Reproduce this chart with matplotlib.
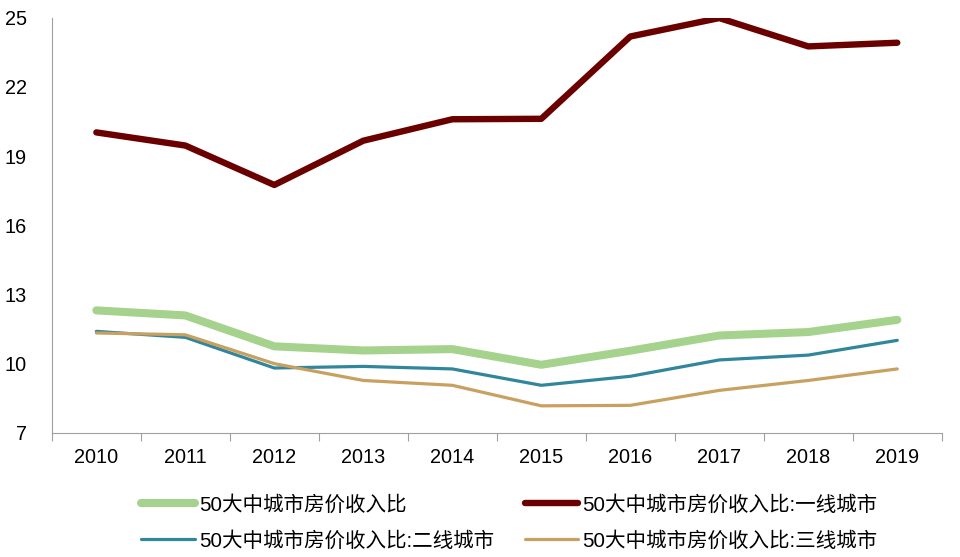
import numpy as np
import matplotlib.pyplot as plt

plt.rcParams['font.family'] = ['Liberation Sans', 'Noto Sans CJK SC', 'DejaVu Sans']

years = ['2010', '2011', '2012', '2013', '2014', '2015', '2016', '2017', '2018', '2019']
ratio_all = [12.31, 12.09, 10.75, 10.57, 10.63, 9.95, 10.56, 11.22, 11.37, 11.90]
ratio_tier1 = [20.03, 19.46, 17.75, 19.67, 20.60, 20.62, 24.19, 24.99, 23.76, 23.92]
ratio_tier2 = [11.40, 11.14, 9.81, 9.88, 9.77, 9.06, 9.45, 10.16, 10.37, 11.01]
ratio_tier3 = [11.33, 11.25, 10.00, 9.27, 9.06, 8.17, 8.19, 8.84, 9.27, 9.77]
labels = ['50大中城市房价收入比', '50大中城市房价收入比:一线城市',
          '50大中城市房价收入比:二线城市', '50大中城市房价收入比:三线城市']

fig = plt.figure(figsize=(9.6, 5.57), dpi=100)
ax = fig.add_axes([0.054, 0.223, 0.927, 0.745])

x = np.arange(len(years))
l1, = ax.plot(x, ratio_all, color='#A5D28C', lw=5.8, solid_capstyle='round')
l2, = ax.plot(x, ratio_tier1, color='#6B0000', lw=4.6, solid_capstyle='round')
l3, = ax.plot(x, ratio_tier2, color='#31869B', lw=2.3, solid_capstyle='round')
l4, = ax.plot(x, ratio_tier3, color='#C8A060', lw=2.3, solid_capstyle='round')

ax.set_xlim(-0.5, len(years) - 0.5)
ax.set_ylim(7, 25)
ax.set_yticks([7, 10, 13, 16, 19, 22, 25])
ax.tick_params(axis='y', length=0, labelsize=14.3, pad=18)

ax.set_xticks(np.arange(-0.5, len(years), 1))
ax.set_xticklabels([])
ax.tick_params(axis='x', which='major', length=6, color='#A0A0A0', direction='out')
ax.set_xticks(x, minor=True)
ax.set_xticklabels(years, minor=True)
ax.tick_params(axis='x', which='minor', length=0, labelsize=14.3, pad=11)

for s in ['top', 'right']:
    ax.spines[s].set_visible(False)
ax.spines['left'].set_color('#A0A0A0')
ax.spines['bottom'].set_color('#A0A0A0')

fig.legend([l1, l3, l2, l4], [labels[0], labels[2], labels[1], labels[3]],
           ncol=2, loc='upper left', bbox_to_anchor=(0.128, 0.145),
           frameon=False, fontsize=14.8, handlelength=2.6, handletextpad=0.2,
           columnspacing=1.5, labelspacing=0.8)

fig.savefig('out.png', dpi=100)
